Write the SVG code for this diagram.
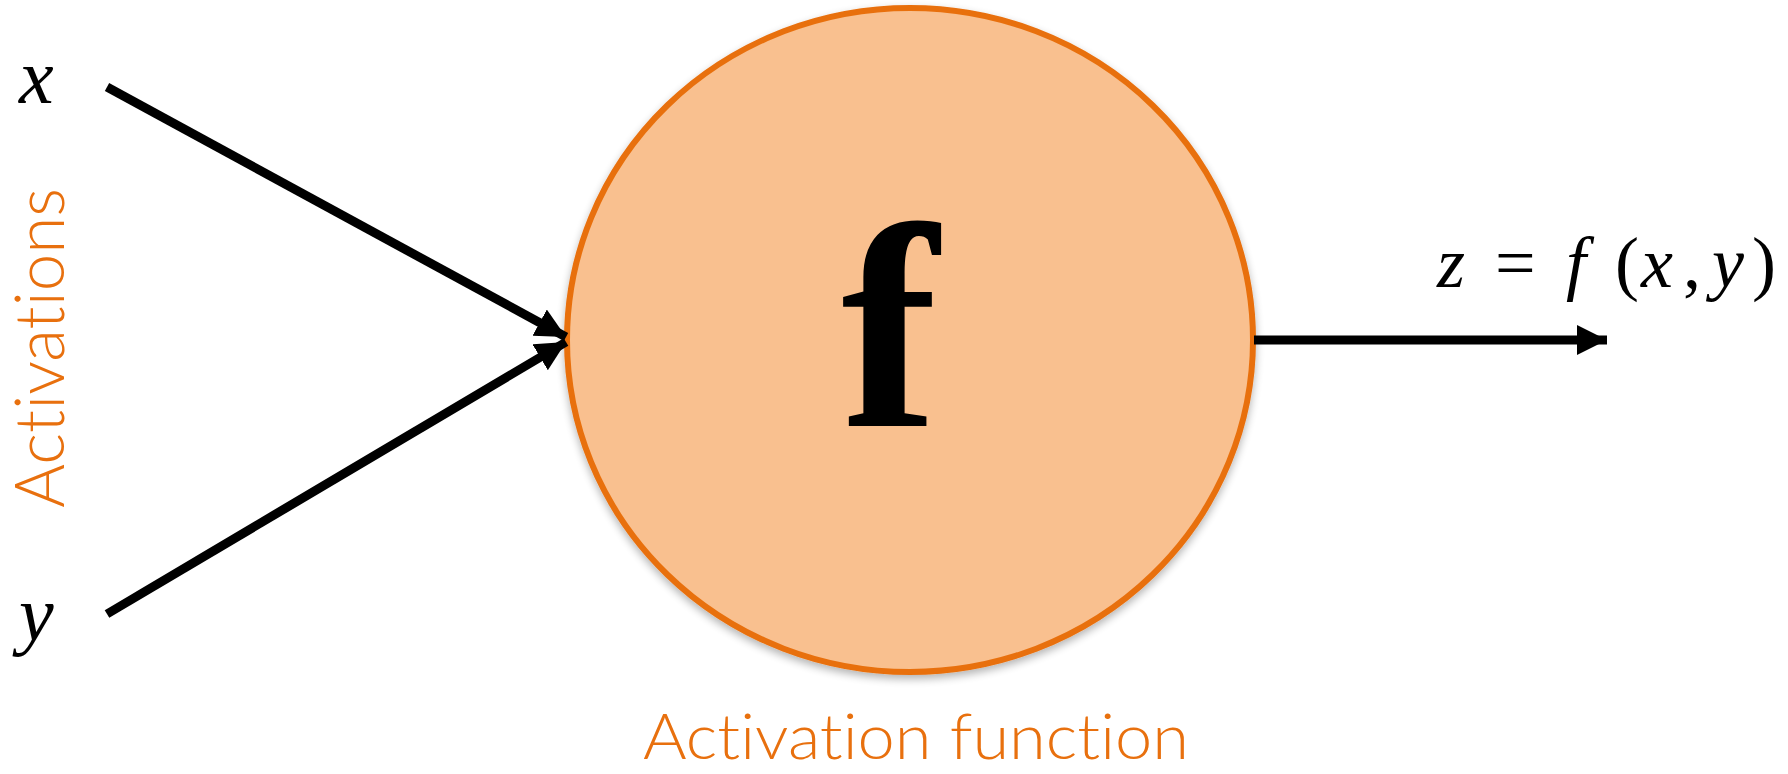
<svg xmlns="http://www.w3.org/2000/svg" width="1788" height="774" viewBox="0 0 1788 774">
<style>
.math{font-family:"Liberation Serif","DejaVu Serif",serif;font-style:italic;fill:#000}
.mathr{font-family:"Liberation Serif","DejaVu Serif",serif;fill:#000}
.lbl{font-family:Lato,"Open Sans","Liberation Sans",sans-serif;font-weight:300;fill:#E8700E;font-variant-ligatures:none;font-feature-settings:"liga" 0,"dlig" 0}
.edge{stroke:#000;stroke-width:9;fill:none}
</style>
<defs>
<marker id="ah" markerUnits="userSpaceOnUse" markerWidth="32" markerHeight="32" viewBox="0 0 32 32" refX="30" refY="15" orient="auto">
<path d="M0,0 L30,15 L0,30 z" fill="#000"/>
</marker>
<filter id="sh" x="-10%" y="-10%" width="120%" height="125%">
<feGaussianBlur in="SourceAlpha" stdDeviation="4"/>
<feOffset dy="4"/>
<feComponentTransfer><feFuncA type="linear" slope="0.3"/></feComponentTransfer>
<feMerge><feMergeNode/><feMergeNode in="SourceGraphic"/></feMerge>
</filter>
</defs>
<g id="node-f">
<ellipse cx="910" cy="340" rx="343" ry="332" fill="#F9C08F" stroke="#E8700E" stroke-width="6" filter="url(#sh)"/>
<text class="mathr" x="841" y="426" font-size="292" font-weight="bold">f</text>
</g>
<g id="node-x"><text class="math" x="19" y="103" font-size="78">x</text></g>
<g id="node-y"><text class="math" x="19" y="640" font-size="78">y</text></g>
<g id="label-activations"><text class="lbl" font-size="68" transform="translate(64,508) rotate(-90)" textLength="320" lengthAdjust="spacingAndGlyphs">Activations</text></g>
<g id="label-function"><text class="lbl" x="643" y="759" font-size="64" textLength="546" lengthAdjust="spacingAndGlyphs">Activation function</text></g>
<g id="node-z">
<text class="math" y="287" font-size="72"><tspan x="1437">z</tspan><tspan class="mathr" font-style="normal" x="1495">=</tspan><tspan x="1566">f</tspan><tspan class="mathr" font-style="normal" x="1615">(</tspan><tspan x="1641">x</tspan><tspan class="mathr" font-style="normal" x="1683">,</tspan><tspan x="1712">y</tspan><tspan class="mathr" font-style="normal" x="1752">)</tspan></text>
</g>
<g id="connectors">
<line class="edge" x1="107" y1="87" x2="566" y2="337" marker-end="url(#ah)"/>
<line class="edge" x1="107" y1="614" x2="566" y2="342" marker-end="url(#ah)"/>
<line class="edge" x1="1254" y1="340" x2="1607" y2="340" marker-end="url(#ah)"/>
</g>
</svg>
